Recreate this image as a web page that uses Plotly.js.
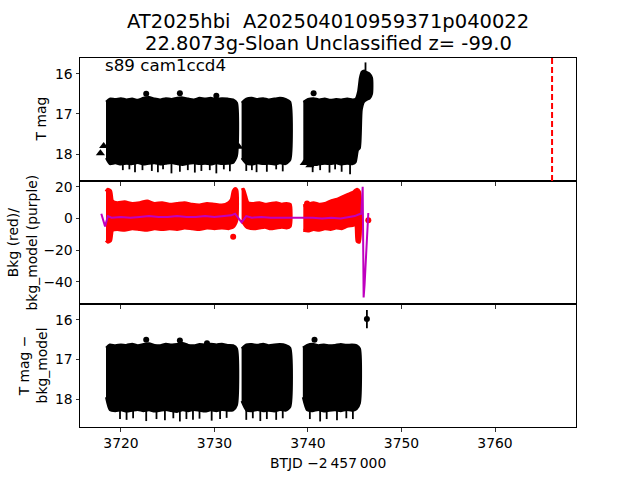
<!DOCTYPE html>
<html><head><meta charset="utf-8">
<script src="https://cdn.plot.ly/plotly-3.0.1.min.js"></script>
<style>html,body{margin:0;padding:0;background:#fff}#chart{width:640px;height:480px}</style>
</head><body><div id="chart"></div>
<script>
// ---------- TOP PANEL: T mag (dense band envelopes) ----------
const magA_t      = [3718.4, 3718.8, 3719.4, 3720.0, 3720.6, 3721.2, 3721.8, 3722.4, 3723.0, 3723.6, 3724.2, 3724.8, 3725.4, 3726.0, 3726.6, 3727.2, 3727.8, 3728.4, 3729.0, 3729.6, 3730.2, 3730.8, 3731.4, 3732.0, 3732.4];
const magA_bright = [16.70, 16.62, 16.63, 16.61, 16.64, 16.62, 16.65, 16.60, 16.58, 16.62, 16.64, 16.61, 16.63, 16.60, 16.59, 16.62, 16.64, 16.60, 16.62, 16.60, 16.63, 16.61, 16.62, 16.64, 16.72];
const magA_faint  = [18.10, 18.25, 18.23, 18.26, 18.24, 18.25, 18.22, 18.26, 18.24, 18.23, 18.26, 18.24, 18.22, 18.25, 18.27, 18.24, 18.23, 18.25, 18.24, 18.26, 18.23, 18.25, 18.24, 18.22, 18.05];
const magB_t      = [3732.9, 3733.4, 3734.0, 3734.6, 3735.2, 3735.8, 3736.4, 3737.0, 3737.6, 3738.1];
const magB_bright = [16.72, 16.62, 16.60, 16.63, 16.61, 16.64, 16.62, 16.60, 16.63, 16.70];
const magB_faint  = [18.10, 18.24, 18.26, 18.23, 18.25, 18.24, 18.26, 18.23, 18.25, 18.15];
const magC_t      = [3739.5, 3740.0, 3740.6, 3741.2, 3741.8, 3742.4, 3743.0, 3743.6, 3744.2, 3744.8, 3745.1, 3745.35, 3745.55, 3745.75, 3746.0, 3746.3, 3746.6, 3746.85];
const magC_bright = [16.70, 16.63, 16.61, 16.64, 16.62, 16.65, 16.63, 16.64, 16.62, 16.64, 16.62, 16.45, 16.10, 15.95, 15.92, 15.96, 16.00, 16.10];
const magC_faint  = [18.15, 18.25, 18.23, 18.26, 18.24, 18.25, 18.23, 18.26, 18.24, 18.25, 18.20, 17.90, 17.85, 16.90, 16.70, 16.65, 16.62, 16.50];
const magSpike_t   = [3720.2, 3720.9, 3721.5, 3722.3, 3723.3, 3723.95, 3724.5, 3725.4, 3726.3, 3727.15, 3727.9, 3728.6, 3729.5, 3730.2, 3731.0, 3731.65, 3733.4, 3734.0, 3734.5, 3735.6, 3736.6, 3737.3, 3740.5, 3741.3, 3742.3, 3742.9, 3743.6, 3744.5];
const magSpike_low = [18.40, 18.38, 18.45, 18.40, 18.42, 18.45, 18.38, 18.48, 18.44, 18.40, 18.46, 18.42, 18.40, 18.48, 18.38, 18.43, 18.42, 18.40, 18.45, 18.44, 18.38, 18.43, 18.45, 18.40, 18.46, 18.38, 18.44, 18.50];
const magUpSpike_t = [3746.15];
const magUpSpike_v = [15.72];
const magDot_t = [3722.7, 3726.3, 3730.2, 3740.6];
const magDot_v = [16.50, 16.49, 16.55, 16.49];
const magLim_t = [3717.8, 3718.15, 3732.6, 3739.6, 3740.2, 3740.6];
const magLim_v = [17.98, 17.80, 17.82, 18.22, 18.28, 18.25];
const sectorLine_t = [3766.1];

// ---------- MIDDLE PANEL: background (red) and background model (purple) ----------
const bkgA_t  = [3718.4, 3718.6, 3718.9, 3719.1, 3719.6, 3720.4, 3721.2, 3722.0, 3722.8, 3723.6, 3724.4, 3725.2, 3726.0, 3726.8, 3727.6, 3728.4, 3729.2, 3730.0, 3730.8, 3731.5, 3731.8, 3732.0, 3732.2, 3732.4];
const bkgA_hi = [17.0, 18.5, 17.5, 11.0, 10.0, 10.5, 9.5, 10.0, 11.0, 9.5, 10.0, 9.0, 9.5, 10.0, 9.0, 8.5, 9.5, 9.0, 8.5, 10.0, 12.0, 17.5, 19.0, 18.0];
const bkgA_lo = [-14.0, -15.0, -14.0, -7.5, -7.0, -7.5, -6.5, -7.0, -7.5, -6.5, -7.0, -6.5, -7.0, -6.0, -6.5, -7.0, -6.0, -6.5, -6.0, -6.5, -6.0, -5.5, -4.0, -1.0];
const bkgB_t  = [3732.9, 3733.1, 3733.35, 3733.6, 3734.2, 3734.8, 3735.4, 3736.0, 3736.6, 3737.2, 3737.7, 3738.1];
const bkgB_hi = [18.0, 18.5, 14.0, 10.0, 9.5, 10.0, 9.0, 9.5, 10.0, 9.0, 9.5, 9.0];
const bkgB_lo = [-1.0, -3.0, -5.0, -6.0, -6.5, -6.0, -5.5, -6.5, -6.0, -5.5, -6.0, -5.0];
const bkgC_t  = [3739.5, 3740.0, 3740.6, 3741.2, 3741.8, 3742.4, 3743.0, 3743.6, 3744.2, 3744.8, 3745.1, 3745.25, 3745.5];
const bkgC_hi = [8.0, 9.0, 10.0, 9.0, 9.5, 11.0, 12.0, 13.5, 15.0, 16.5, 18.0, 18.5, 17.0];
const bkgC_lo = [-7.5, -8.0, -7.0, -7.5, -6.5, -7.0, -6.0, -6.5, -5.0, -4.5, -4.0, -14.5, -15.0];
const bkgDot_t = [3732.0, 3739.9, 3746.45];
const bkgDot_v = [-11.6, 9.5, -1.2];
const model_t = [3717.9, 3718.1, 3718.3, 3718.6, 3719.0, 3720.0, 3721.0, 3722.0, 3723.0, 3724.0, 3725.0, 3726.0, 3727.0, 3728.0, 3729.0, 3730.0, 3731.0, 3731.8, 3732.2, 3732.6, 3732.9, 3733.4, 3734.0, 3735.0, 3736.0, 3737.0, 3738.1, 3739.5, 3740.5, 3741.5, 3742.5, 3743.5, 3744.5, 3745.0, 3745.4, 3745.7, 3745.85, 3745.95, 3746.05, 3746.25, 3746.45];
const model_v = [3.0, -1.0, -5.0, 1.5, 0.5, 1.0, 0.5, 1.0, 1.5, 1.0, 1.0, 1.5, 1.0, 1.0, 1.5, 1.0, 1.5, 2.0, 3.0, 0.0, -2.5, 1.5, 0.5, 1.0, 0.5, 0.5, 0.5, 0.5, 0.5, 0.0, 0.5, 0.0, 1.0, 1.5, 2.5, 3.0, 20.0, -50.0, -42.0, -15.0, 3.5];

// ---------- BOTTOM PANEL: T mag − bkg_model ----------
const corA_t      = [3718.4, 3718.8, 3719.4, 3720.0, 3720.6, 3721.2, 3721.8, 3722.4, 3723.0, 3723.6, 3724.2, 3724.8, 3725.4, 3726.0, 3726.6, 3727.2, 3727.8, 3728.4, 3729.0, 3729.6, 3730.2, 3730.8, 3731.4, 3732.0, 3732.4];
const corA_bright = [16.70, 16.62, 16.64, 16.62, 16.63, 16.60, 16.64, 16.61, 16.59, 16.63, 16.64, 16.60, 16.62, 16.61, 16.58, 16.63, 16.64, 16.61, 16.62, 16.60, 16.62, 16.60, 16.63, 16.64, 16.72];
const corA_faint  = [17.95, 18.27, 18.30, 18.28, 18.31, 18.29, 18.27, 18.30, 18.28, 18.31, 18.29, 18.27, 18.30, 18.32, 18.28, 18.30, 18.27, 18.29, 18.31, 18.28, 18.30, 18.27, 18.29, 18.28, 18.15];
const corB_t      = [3732.9, 3733.4, 3734.0, 3734.6, 3735.2, 3735.8, 3736.4, 3737.0, 3737.6, 3738.1];
const corB_bright = [16.72, 16.62, 16.61, 16.63, 16.60, 16.64, 16.62, 16.61, 16.63, 16.70];
const corB_faint  = [18.05, 18.28, 18.30, 18.27, 18.30, 18.29, 18.31, 18.27, 18.29, 18.20];
const corC_t      = [3739.45, 3739.9, 3740.5, 3741.1, 3741.7, 3742.3, 3742.9, 3743.5, 3744.1, 3744.7, 3745.2, 3745.55];
const corC_bright = [16.70, 16.63, 16.60, 16.64, 16.62, 16.64, 16.63, 16.61, 16.63, 16.62, 16.64, 16.72];
const corC_faint  = [17.95, 18.28, 18.30, 18.27, 18.31, 18.29, 18.28, 18.30, 18.27, 18.29, 18.25, 18.10];
const corSpike_t   = [3719.9, 3720.6, 3721.3, 3722.7, 3723.8, 3724.7, 3725.6, 3726.3, 3727.0, 3727.7, 3728.4, 3729.7, 3730.6, 3731.3, 3733.4, 3734.1, 3734.9, 3735.6, 3736.6, 3737.3, 3740.2, 3741.3, 3742.0, 3743.1, 3744.1, 3744.8];
const corSpike_low = [18.50, 18.52, 18.48, 18.55, 18.50, 18.53, 18.48, 18.56, 18.50, 18.52, 18.49, 18.54, 18.50, 18.47, 18.52, 18.48, 18.55, 18.50, 18.52, 18.48, 18.50, 18.56, 18.50, 18.53, 18.48, 18.50];
const corDot_t = [3722.7, 3726.3, 3729.2, 3740.7];
const corDot_v = [16.50, 16.52, 16.59, 16.50];
const corLate_t = [3746.3];
const corLate_v = [15.98];
const corLate_err = [0.23];

// ---------- helpers ----------
function band(t, hi, lo, xa, ya, color, lw) {
  return {x: t.concat(t.slice().reverse()), y: hi.concat(lo.slice().reverse()),
    xaxis: xa, yaxis: ya, type: 'scatter', mode: 'lines', fill: 'toself',
    fillcolor: color, line: {color: color, width: lw, shape: 'spline', smoothing: 0.6}, hoverinfo: 'skip'};
}
function spikes(t, from, to, xa, ya) {
  const xs = [], ys = [];
  t.forEach((v, i) => { xs.push(v, v, null); ys.push(from[i], to[i], null); });
  return {x: xs, y: ys, xaxis: xa, yaxis: ya, type: 'scatter', mode: 'lines',
    line: {color: 'black', width: 1.8}, hoverinfo: 'skip'};
}
function nearestEdge(tArr, vArr, tq) {
  let best = 0;
  tArr.forEach((v, i) => { if (Math.abs(v - tq) < Math.abs(tArr[best] - tq)) best = i; });
  return vArr[best];
}
const magAll_t = magA_t.concat(magB_t, magC_t), magAll_f = magA_faint.concat(magB_faint, magC_faint);
const corAll_t = corA_t.concat(corB_t, corC_t), corAll_f = corA_faint.concat(corB_faint, corC_faint);

const traces = [
  band(magA_t, magA_bright, magA_faint, 'x', 'y', 'black', 2),
  band(magB_t, magB_bright, magB_faint, 'x', 'y', 'black', 2),
  band(magC_t, magC_bright, magC_faint, 'x', 'y', 'black', 2),
  spikes(magSpike_t, magSpike_t.map(t => nearestEdge(magAll_t, magAll_f, t) - 0.05), magSpike_low, 'x', 'y'),
  spikes(magUpSpike_t, magUpSpike_t.map(t => nearestEdge(magC_t, magC_bright, t)), magUpSpike_v, 'x', 'y'),
  {x: magDot_t, y: magDot_v, xaxis: 'x', yaxis: 'y', type: 'scatter', mode: 'markers',
    marker: {color: 'black', size: 6}},
  {x: magLim_t, y: magLim_v, xaxis: 'x', yaxis: 'y', type: 'scatter', mode: 'markers',
    marker: {color: 'black', size: 8, symbol: 'triangle-up'}},

  band(bkgA_t, bkgA_hi, bkgA_lo, 'x2', 'y2', '#ff0000', 3),
  band(bkgB_t, bkgB_hi, bkgB_lo, 'x2', 'y2', '#ff0000', 3),
  band(bkgC_t, bkgC_hi, bkgC_lo, 'x2', 'y2', '#ff0000', 3),
  {x: bkgDot_t, y: bkgDot_v, xaxis: 'x2', yaxis: 'y2', type: 'scatter', mode: 'markers',
    marker: {color: '#ff0000', size: 6}},
  {x: model_t, y: model_v, xaxis: 'x2', yaxis: 'y2', type: 'scatter', mode: 'lines',
    line: {color: '#bf00bf', width: 2}},

  band(corA_t, corA_bright, corA_faint, 'x3', 'y3', 'black', 2),
  band(corB_t, corB_bright, corB_faint, 'x3', 'y3', 'black', 2),
  band(corC_t, corC_bright, corC_faint, 'x3', 'y3', 'black', 2),
  spikes(corSpike_t, corSpike_t.map(t => nearestEdge(corAll_t, corAll_f, t) - 0.05), corSpike_low, 'x3', 'y3'),
  {x: corDot_t, y: corDot_v, xaxis: 'x3', yaxis: 'y3', type: 'scatter', mode: 'markers',
    marker: {color: 'black', size: 6}},
  {x: corLate_t, y: corLate_v, xaxis: 'x3', yaxis: 'y3', type: 'scatter', mode: 'markers',
    marker: {color: 'black', size: 6},
    error_y: {type: 'data', array: corLate_err, visible: true, color: 'black', thickness: 1.8, width: 0}}
];

const XR = [3715.62, 3768.66];
const xticks = [3720, 3730, 3740, 3750, 3760];
function xax(anchor, labels) {
  return {anchor: anchor, domain: [0, 1], range: XR, tickvals: xticks, showticklabels: labels,
    ticks: 'outside', ticklen: 3.5, tickwidth: 0.8, tickcolor: 'black',
    showline: true, mirror: true, linecolor: 'black', linewidth: 1,
    showgrid: false, zeroline: false, tickfont: {size: 13.9}};
}
function yax(anchor, dom, range, tv) {
  return {anchor: anchor, domain: dom, range: range, tickvals: tv,
    ticks: 'outside', ticklen: 3.5, tickwidth: 0.8, tickcolor: 'black',
    showline: true, mirror: true, linecolor: 'black', linewidth: 1,
    showgrid: false, zeroline: false, tickfont: {size: 13.9}};
}

const layout = {
  width: 640, height: 480,
  margin: {l: 80, r: 64, t: 57.6, b: 52.8, pad: 0},
  paper_bgcolor: 'white', plot_bgcolor: 'white', showlegend: false,
  font: {family: 'DejaVu Sans', size: 13.9, color: 'black'},
  xaxis: xax('y', false),
  yaxis: yax('x', [2/3, 1], [18.67, 15.61], [16, 17, 18]),
  xaxis2: xax('y2', false),
  yaxis2: yax('x2', [1/3, 2/3], [-54.1, 23.7], [-40, -20, 0, 20]),
  xaxis3: xax('y3', true),
  yaxis3: yax('x3', [0, 1/3], [18.70, 15.60], [16, 17, 18]),
  shapes: sectorLine_t.map(t => ({type: 'line', xref: 'x', yref: 'y domain', x0: t, x1: t, y0: 0, y1: 1,
    line: {color: '#ff0000', width: 2, dash: '6px,3px'}})),
  annotations: [
    {text: 'AT2025hbi\u00a0 A202504010959371p040022', xref: 'paper', yref: 'paper', x: 0.5, y: 1.099,
      xanchor: 'center', yanchor: 'middle', showarrow: false, font: {size: 19.5}},
    {text: '22.8073g-Sloan Unclassified z= -99.0', xref: 'paper', yref: 'paper', x: 0.5, y: 1.0395,
      xanchor: 'center', yanchor: 'middle', showarrow: false, font: {size: 19.5}},
    {text: 's89 cam1ccd4', xref: 'x domain', yref: 'y domain', x: 0.047, y: 0.94, xanchor: 'left', yanchor: 'middle',
      showarrow: false, font: {size: 16.7}},
    {text: 'T mag', xref: 'paper', yref: 'y domain', x: -0.0806, y: 0.5, xanchor: 'center', yanchor: 'middle',
      textangle: -90, showarrow: false, font: {size: 13.9}},
    {text: 'Bkg (red)/<br>bkg_model (purple)', xref: 'paper', yref: 'y2 domain', x: -0.117, y: 0.5,
      xanchor: 'center', yanchor: 'middle', textangle: -90, showarrow: false, font: {size: 13.9}},
    {text: 'T mag \u2212<br>bkg_model', xref: 'paper', yref: 'y3 domain', x: -0.095, y: 0.5,
      xanchor: 'center', yanchor: 'middle', textangle: -90, showarrow: false, font: {size: 13.9}},
    {text: 'BTJD \u22122\u2009457\u2009000', xref: 'paper', yref: 'paper', x: 0.5, y: -0.0969,
      xanchor: 'center', yanchor: 'middle', showarrow: false, font: {size: 13.9}}
  ]
};

Plotly.newPlot('chart', traces, layout, {staticPlot: true, displayModeBar: false});
</script></body></html>
